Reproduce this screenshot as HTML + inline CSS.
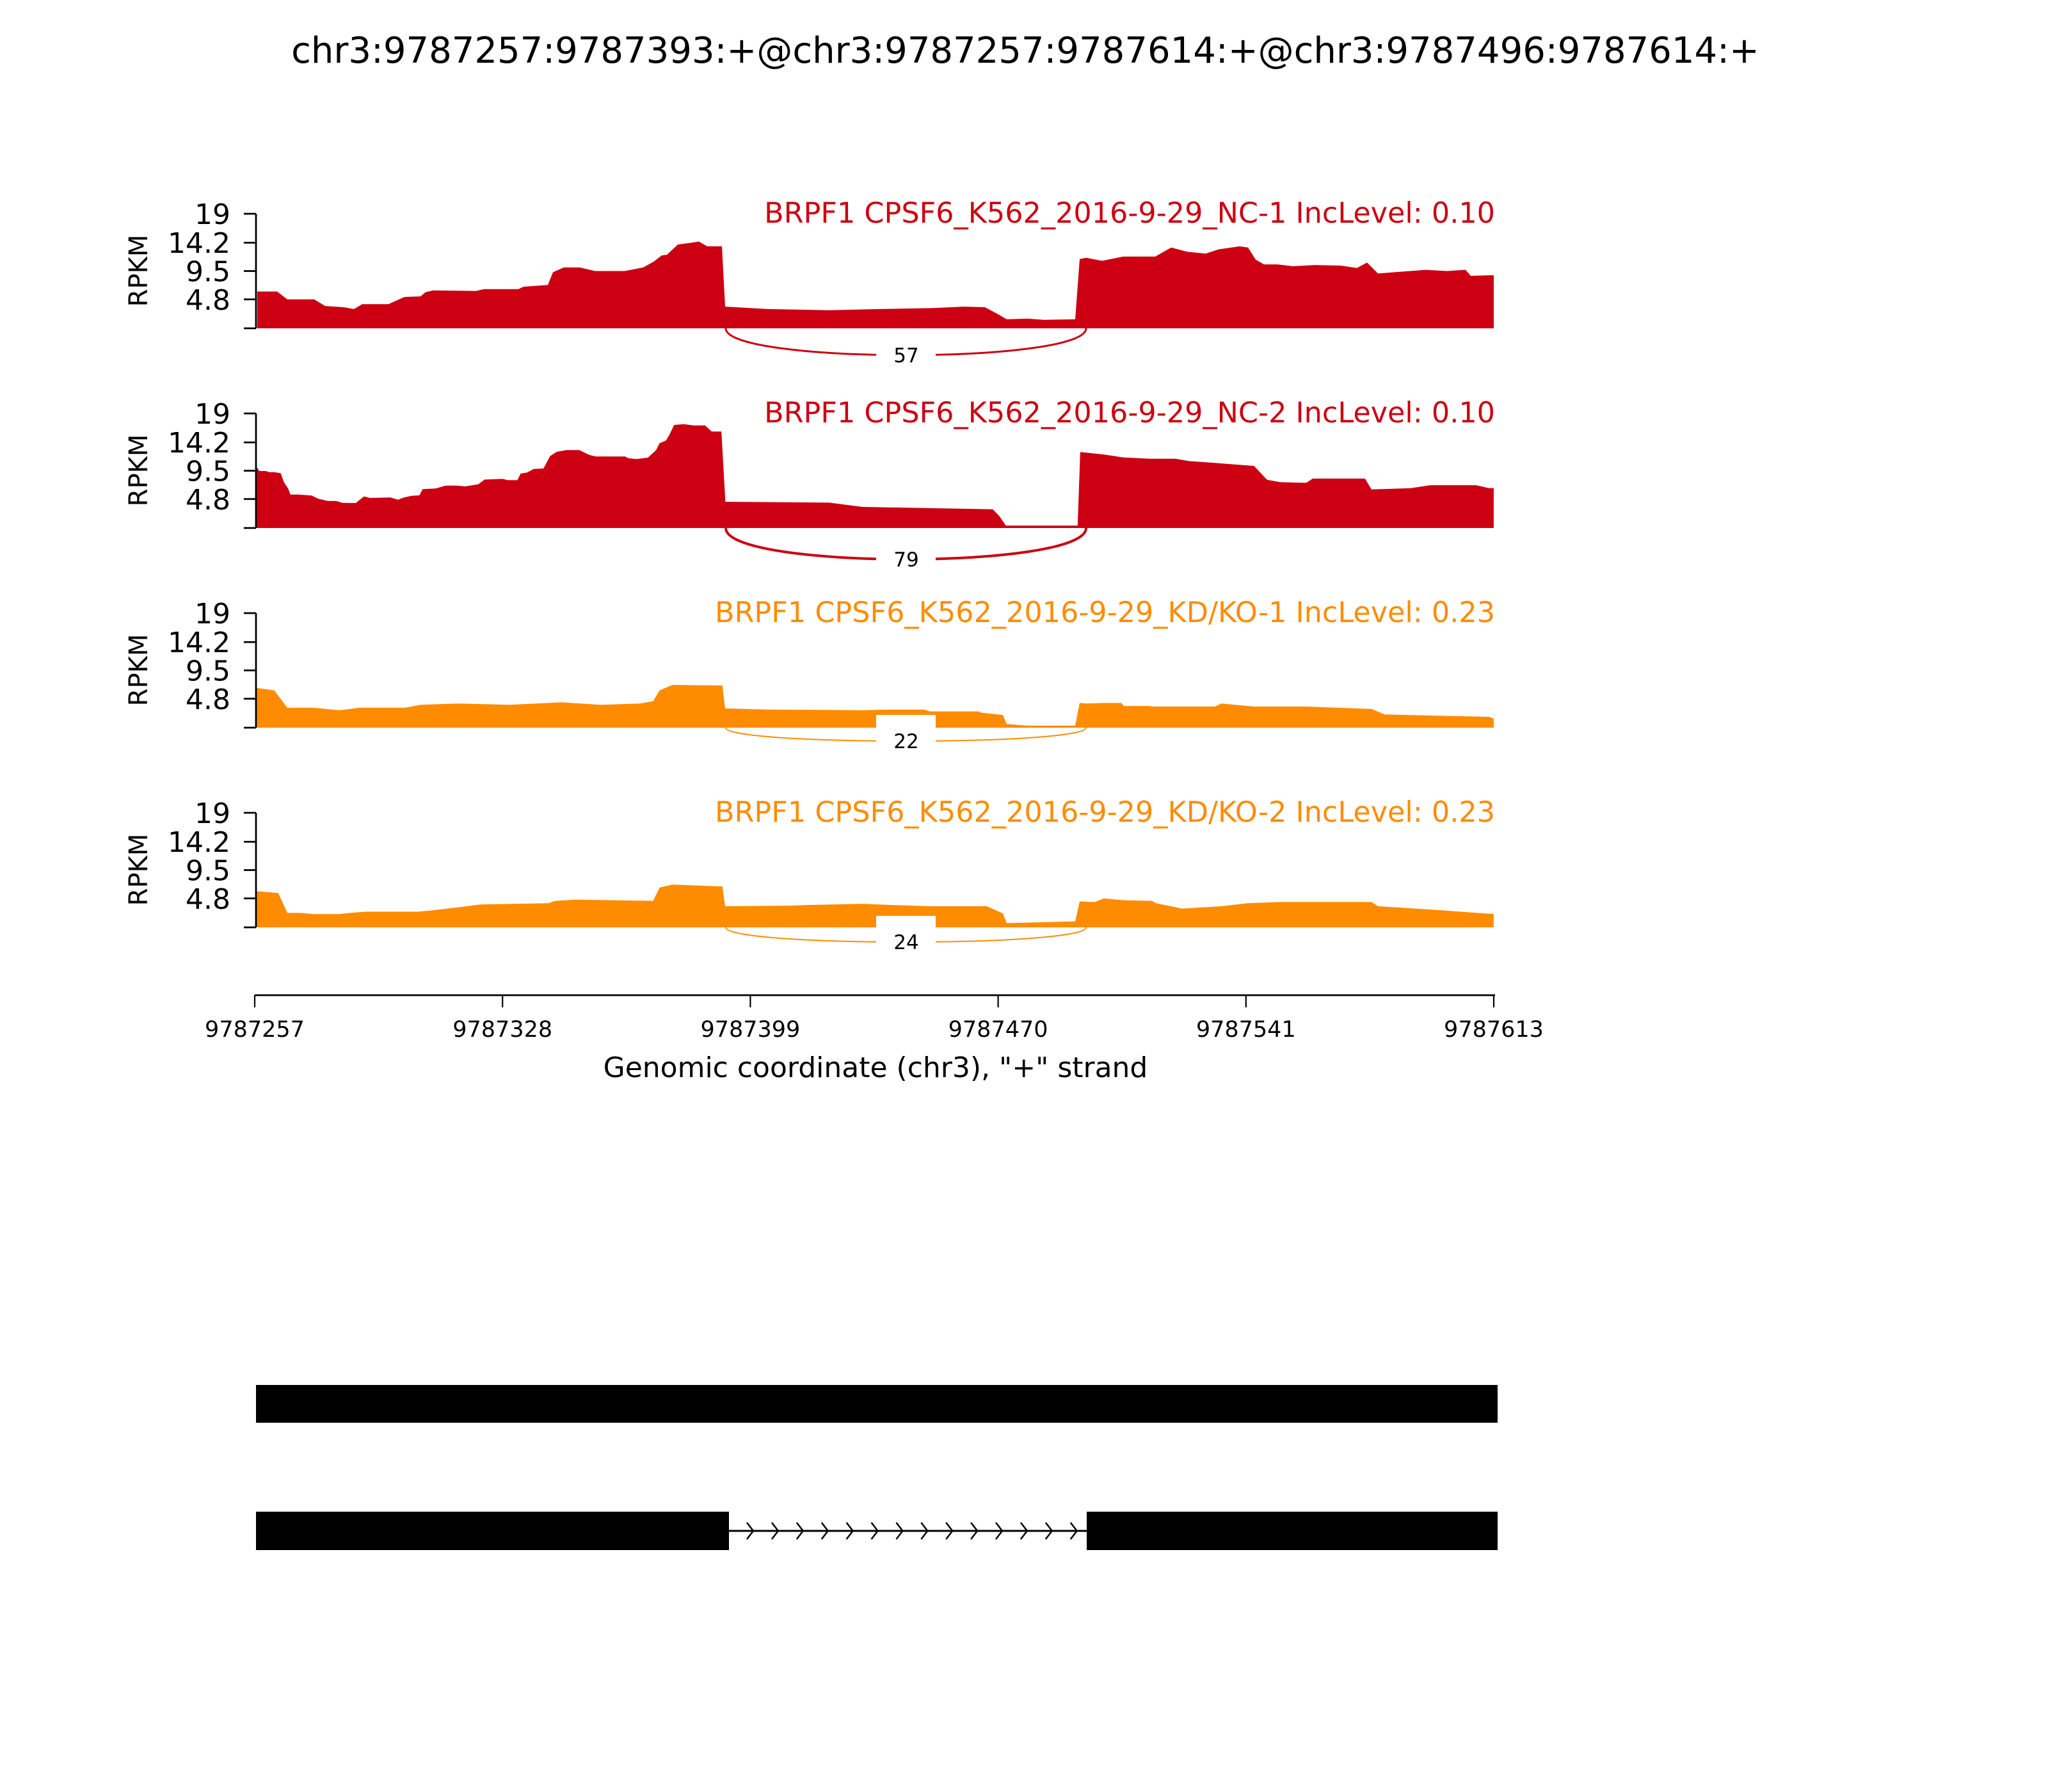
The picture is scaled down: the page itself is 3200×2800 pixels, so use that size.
<!DOCTYPE html>
<html><head><meta charset="utf-8"><style>html,body{margin:0;padding:0;background:#fff}svg{display:block}text{font-family:"DejaVu Sans","Liberation Sans",sans-serif}</style></head>
<body>
<svg id="s" xmlns="http://www.w3.org/2000/svg" width="3200" height="2800" viewBox="0 0 3200 2800">
<rect width="3200" height="2800" fill="#fff"/>
<text x="1602" y="98" font-size="56" text-anchor="middle">chr3:9787257:9787393:+@chr3:9787257:9787614:+@chr3:9787496:9787614:+</text>
<g id="g"></g>
</svg>
<script>
var NS="http://www.w3.org/2000/svg",G=document.getElementById("g");
function el(t,a,txt){var e=document.createElementNS(NS,t);for(var k in a)e.setAttribute(k,a[k]);if(txt!==undefined)e.textContent=txt;G.appendChild(e);return e;}
var K=9.42,D=2.041;
var bottoms=[513,825,1137,1449];
var colors=["#cc0012","#cc0012","#ff8c00","#ff8c00"];
var light=["#e88a92","#e88a92","#ffc885","#ffc885"];
var labels=["BRPF1 CPSF6_K562_2016-9-29_NC-1 IncLevel: 0.10","BRPF1 CPSF6_K562_2016-9-29_NC-2 IncLevel: 0.10","BRPF1 CPSF6_K562_2016-9-29_KD/KO-1 IncLevel: 0.23","BRPF1 CPSF6_K562_2016-9-29_KD/KO-2 IncLevel: 0.23"];
var counts=["57","79","22","24"];
var depth=[42,49,21,23],lw=[3,4,2,2];
var p1=[[402,6.1],[433,6.1],[449,4.8],[491,4.8],[508,3.7],[537,3.5],[553,3.2],[566,4.0],[607,4.0],[619,4.6],[632,5.2],[657,5.3],[665,6.0],[677,6.3],[744,6.2],[756,6.5],[810,6.5],[818,6.9],[856,7.2],[864,9.3],[881,10.1],[906,10.1],[930,9.5],[976,9.5],[1005,10.1],[1022,11.1],[1034,12.1],[1042,12.2],[1059,13.9],[1080,14.2],[1092,14.4],[1105,13.6],[1128,13.6],[1133,3.6],[1200,3.2],[1295,3.0],[1374,3.2],[1457,3.35],[1506,3.6],[1539,3.5],[1560,2.3],[1573,1.5],[1606,1.6],[1631,1.4],[1680,1.5],[1687,11.5],[1697,11.7],[1722,11.2],[1755,11.9],[1805,11.9],[1830,13.4],[1855,12.7],[1884,12.4],[1904,13.1],[1937,13.6],[1950,13.4],[1962,11.4],[1975,10.6],[1996,10.6],[2020,10.3],[2054,10.5],[2095,10.4],[2120,10.0],[2136,10.9],[2153,9.1],[2178,9.3],[2228,9.7],[2261,9.5],[2290,9.7],[2298,8.7],[2327,8.8],[2334,8.8]];
var z7=[[22,270],[30,288],[50,288],[60,293],[75,293],[95,298],[105,340],[118,370],[125,398],[150,398],[190,403],[210,418],[240,428],[265,428],[285,437],[325,438],[350,407],[370,414],[430,412],[455,422],[470,413],[495,404],[520,402],[530,373],[570,370],[600,356],[635,356],[660,360],[700,350],[720,328],[775,325],[790,331],[820,331],[830,300],[850,295],[870,278],[900,276],[920,218],[940,198],[970,190],[1010,190],[1040,212],[1060,220],[1150,220],[1160,228],[1185,232],[1220,225],[1245,190],[1255,158],[1275,145],[1285,120],[1300,72],[1330,68],[1360,74],[1395,74],[1415,103],[1445,103],[1457,432]];
var p2=z7.map(function(a){return [390+a[0]/1.96,(825-(640+a[1]/3))/K];});
[[635,4.2],[660,3.5],[710,3.3],[760,3.1],[765,2.0],[770,0.4],[825,0.4],[827,12.6],[845,12.2],[860,11.7],[880,11.5],[900,11.5],[910,11.1],[930,10.8],[960,10.3],[970,8.0],[980,7.6],[1000,7.5],[1005,8.2],[1045,8.2],[1050,6.4],[1080,6.6],[1095,7.1],[1130,7.1],[1140,6.6],[1143.5,6.6]].forEach(function(a){p2.push([a[0]*D,a[1]]);});
var p3=[[196,6.6],[210,6.2],[220,3.3],[240,3.3],[260,2.9],[275,3.3],[310,3.3],[322,3.8],[350,4.0],[390,3.8],[430,4.2],[460,3.8],[490,4.0],[500,4.4],[505,6.2],[515,7.1],[553,7.0]].map(function(a){return [a[0]*D,a[1]];});
p3=p3.concat([[1133,3.2],[1203,3.0],[1348,2.9],[1386,3.0],[1444,3.0],[1453,2.7],[1529,2.7],[1533,2.5],[1567,2.1],[1573,0.6],[1604,0.35],[1680,0.35],[1687,4.1],[1698,4.0],[1725,4.1],[1752,4.1],[1756,3.6],[1800,3.6]]);
[[880,3.5],[930,3.5],[935,4.0],[960,3.5],[1000,3.5],[1050,3.1],[1060,2.2],[1100,2.0],[1140,1.8],[1143.5,1.5]].forEach(function(a){p3.push([a[0]*D,a[1]]);});
var p4=[[196,6.0],[213,5.7],[220,2.4],[230,2.4],[240,2.2],[260,2.2],[268,2.4],[280,2.6],[320,2.6],[330,2.8],[350,3.3],[368,3.8],[420,4.0],[425,4.4],[440,4.6],[500,4.4],[505,6.6],[515,7.1],[550,6.8],[553,6.8]].map(function(a){return [a[0]*D,a[1]];});
p4=p4.concat([[1133,3.5],[1234,3.6],[1260,3.7],[1348,3.9],[1395,3.7],[1453,3.5],[1542,3.5],[1567,2.3],[1573,0.7],[1680,1.0],[1687,4.3],[1711,4.2],[1725,4.8],[1756,4.5],[1800,4.4]]);
[[885,4.0],[905,3.1],[935,3.5],[955,4.0],[980,4.2],[1050,4.2],[1055,3.5],[1100,2.9],[1143.5,2.2]].forEach(function(a){p4.push([a[0]*D,a[1]]);});
var P=[p1,p2,p3,p4];
for(var i=0;i<4;i++){
 var B=bottoms[i],T=B-179;
 var d="M"+P[i][0][0]+","+B;
 P[i].forEach(function(a){d+=" L"+a[0].toFixed(1)+","+(B-a[1]*K).toFixed(1);});
 d+=" L"+P[i][P[i].length-1][0]+","+B+" Z";
 el("path",{d:d,fill:colors[i]});
 var x1=1134,x2=1697,dp=depth[i];
 el("path",{d:"M"+x1+","+B+" C"+x1+","+(B+dp*1.33)+" "+x2+","+(B+dp*1.33)+" "+x2+","+B,fill:"none",stroke:colors[i],"stroke-width":lw[i]});
 var cy=B+dp;
 el("rect",{x:1369,y:cy-41,width:93,height:82,fill:"#fff"});
 el("rect",{x:1375,y:cy-35,width:81,height:70,fill:"none",stroke:light[i],"stroke-width":1.5});
 el("rect",{x:1372,y:cy-38,width:87,height:76,fill:"#fff"});
 el("text",{x:1416,y:cy+11,"font-size":31,"text-anchor":"middle"},counts[i]);
 el("line",{x1:400,y1:T,x2:400,y2:B,stroke:"#000","stroke-width":2.8});
 [0,4.8,9.5,14.2,19].forEach(function(v){var y=B-v*K;el("line",{x1:381,y1:y,x2:400,y2:y,stroke:"#000","stroke-width":2.8});
  if(v>0)el("text",{x:360,y:y+16,"font-size":44,"text-anchor":"end"},v==19?"19":v.toFixed(1));});
 el("text",{x:0,y:0,"font-size":40,"text-anchor":"middle",transform:"translate(230,"+(B-90)+") rotate(-90)"},"RPKM");
 el("text",{x:2336,y:T+14,"font-size":44.5,"text-anchor":"end",fill:colors[i]},labels[i]);
}
el("line",{x1:398,y1:1555,x2:2336,y2:1555,stroke:"#000","stroke-width":2.8});
["9787257","9787328","9787399","9787470","9787541","9787613"].forEach(function(t,j){var x=398+j*387.2;
 el("line",{x1:x,y1:1555,x2:x,y2:1574,stroke:"#000","stroke-width":2.2});
 el("text",{x:x,y:1620,"font-size":35,"text-anchor":"middle"},t);});
el("text",{x:1368,y:1683,"font-size":44,"text-anchor":"middle"},'Genomic coordinate (chr3), "+" strand');
el("rect",{x:400,y:2164,width:1940,height:59,fill:"#000"});
el("rect",{x:400,y:2362,width:739,height:60,fill:"#000"});
el("rect",{x:1698,y:2362,width:642,height:60,fill:"#000"});
el("line",{x1:1139,y1:2392,x2:1698,y2:2392,stroke:"#000","stroke-width":3});
for(var x=1167;x<1690;x+=38.9){el("path",{d:"M"+x+","+2379+" L"+(x+10)+",2392 L"+x+",2405",fill:"none",stroke:"#000","stroke-width":2.5});}
</script>
</body></html>
